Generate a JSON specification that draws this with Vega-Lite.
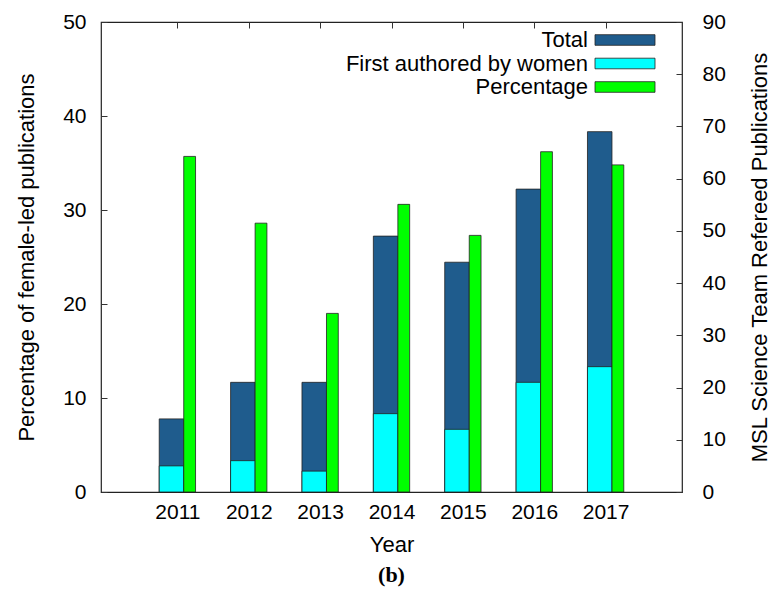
{
  "$schema": "https://vega.github.io/schema/vega-lite/v6.json",
  "width": 581,
  "height": 470,
  "autosize": {"type": "none"},
  "padding": {"left": 101, "top": 22, "right": 89, "bottom": 113},
  "background": "white",
  "config": {
    "view": {"stroke": "#222", "strokeWidth": 1.2},
    "font": "Liberation Sans",
    "axis": {
      "labelFont": "Liberation Sans", "titleFont": "Liberation Sans",
      "labelFontSize": 21, "titleFontSize": 22, "titleFontWeight": "normal",
      "labelColor": "#000", "titleColor": "#000",
      "domain": false, "grid": false,
      "tickColor": "#333", "tickSize": -6, "tickWidth": 1
    }
  },
  "title": {"text": "(b)", "orient": "bottom", "font": "Liberation Serif", "fontSize": 22, "fontWeight": "bold", "color": "#000", "offset": 10, "anchor": "middle"},
  "data": {
    "values": [
      {"Year": 2011, "Total": 14, "Women": 5, "Percentage": 35.7},
      {"Year": 2012, "Total": 21, "Women": 6, "Percentage": 28.6},
      {"Year": 2013, "Total": 21, "Women": 4, "Percentage": 19.0},
      {"Year": 2014, "Total": 49, "Women": 15, "Percentage": 30.6},
      {"Year": 2015, "Total": 44, "Women": 12, "Percentage": 27.3},
      {"Year": 2016, "Total": 58, "Women": 21, "Percentage": 36.2},
      {"Year": 2017, "Total": 69, "Women": 24, "Percentage": 34.8}
    ]
  },
  "layer": [
    {
      "encoding": {
        "x": {"field": "Year", "type": "quantitative",
          "scale": {"domain": [2010, 2018], "nice": false, "zero": false},
          "axis": {"orient": "bottom", "values": [2011, 2012, 2013, 2014, 2015, 2016, 2017], "format": "d", "title": "Year", "labelPadding": 15, "titlePadding": 12}}
      },
      "layer": [
        {
          "mark": {"type": "bar", "width": 24.5, "xOffset": -5.9, "stroke": "#222", "strokeWidth": 0.8},
          "encoding": {
            "y": {"field": "Total", "type": "quantitative",
              "scale": {"domain": [0, 90], "nice": false},
              "axis": {"orient": "right", "values": [0, 10, 20, 30, 40, 50, 60, 70, 80, 90], "title": "MSL Science Team Refereed Publications", "labelPadding": 26, "titlePadding": 24, "titleAngle": 270, "titleBaseline": "top"}},
            "color": {"datum": "Total", "type": "nominal",
              "scale": {"domain": ["Total", "First authored by women", "Percentage"], "range": ["#1f5c8d", "#00ffff", "#00ff00"]},
              "legend": {"orient": "none", "legendX": 513, "legendY": 7, "title": null, "padding": 0,
                "symbolType": "M-3,-0.53H3V0.53H-3Z", "symbolSize": 400, "symbolStrokeColor": "#222", "symbolStrokeWidth": 0.8, "symbolOpacity": 1,
                "labelAlign": "right", "labelOffset": -48, "labelFontSize": 22, "labelFont": "Liberation Sans", "labelColor": "#000", "labelLimit": 500, "rowPadding": 1.5}}
          }
        },
        {
          "mark": {"type": "bar", "width": 24.5, "xOffset": -5.9, "stroke": "#222", "strokeWidth": 0.8},
          "encoding": {
            "y": {"field": "Women", "type": "quantitative"},
            "color": {"datum": "First authored by women", "type": "nominal"}
          }
        }
      ]
    },
    {
      "mark": {"type": "bar", "width": 11.8, "xOffset": 12.26, "stroke": "#222", "strokeWidth": 0.8},
      "encoding": {
        "x": {"field": "Year", "type": "quantitative",
          "axis": {"orient": "top", "values": [2011, 2012, 2013, 2014, 2015, 2016, 2017], "labels": false, "title": null}},
        "y": {"field": "Percentage", "type": "quantitative",
          "scale": {"domain": [0, 50], "nice": false},
          "axis": {"orient": "left", "values": [0, 10, 20, 30, 40, 50], "title": "Percentage of female-led publications", "labelPadding": 21, "titlePadding": 24}},
        "color": {"datum": "Percentage", "type": "nominal"}
      }
    }
  ],
  "resolve": {"scale": {"y": "independent"}, "axis": {"x": "independent"}}
}
